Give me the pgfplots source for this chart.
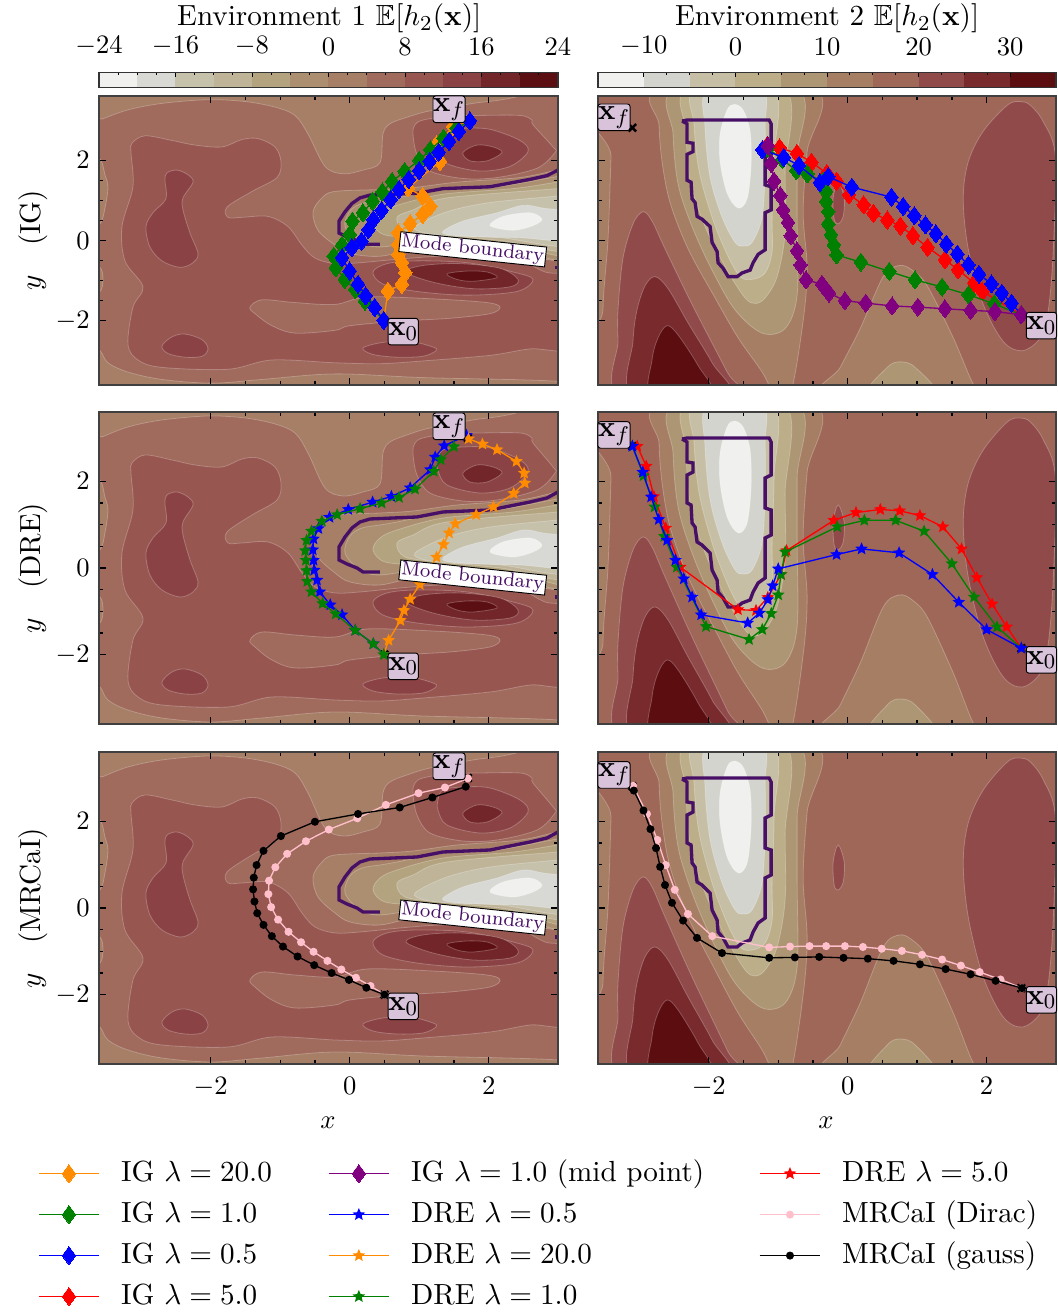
\documentclass[border=0pt]{standalone}
\usepackage{amsfonts}
\usepackage{pgfplots}
\pgfplotsset{compat=1.18}
\usetikzlibrary{plotmarks}
% env 1 levels
\definecolor{ca}{HTML}{F0F0EE}\definecolor{cb}{HTML}{D8D8D4}\definecolor{cc}{HTML}{C6C1AB}
\definecolor{cd}{HTML}{BFB498}\definecolor{ce}{HTML}{B3A47F}\definecolor{cf}{HTML}{AB8F70}
\definecolor{cg}{HTML}{A67F66}\definecolor{ch}{HTML}{A06A5C}\definecolor{ci}{HTML}{985651}
\definecolor{cj}{HTML}{8B4244}\definecolor{ck}{HTML}{722629}\definecolor{cl}{HTML}{5C0F12}
% env 2 levels
\definecolor{da}{HTML}{F0F0EE}\definecolor{db}{HTML}{D4D4CE}\definecolor{dc}{HTML}{C6BFA6}
\definecolor{dd}{HTML}{BBAE88}\definecolor{de}{HTML}{AD9673}\definecolor{df}{HTML}{A67E64}
\definecolor{dg}{HTML}{9F6758}\definecolor{dh}{HTML}{904A4A}\definecolor{di}{HTML}{782A2C}
\definecolor{dj}{HTML}{5C0D10}
\definecolor{modec}{HTML}{470F66}
\definecolor{boxc}{HTML}{D9C3DB}
\definecolor{dorange}{HTML}{FF8C00}
\definecolor{dgreen}{HTML}{008000}
\definecolor{dpurple}{HTML}{800080}
\definecolor{lpink}{HTML}{FFC0CB}
\newcommand\bigtxt{\fontsize{10.95}{13}\selectfont}
\pgfdeclareplotmark{fstar}{%
  \pgfpathmoveto{\pgfpointpolar{90}{\pgfplotmarksize}}%
  \pgfpathlineto{\pgfpointpolar{126}{0.45\pgfplotmarksize}}%
  \pgfpathlineto{\pgfpointpolar{162}{\pgfplotmarksize}}%
  \pgfpathlineto{\pgfpointpolar{198}{0.45\pgfplotmarksize}}%
  \pgfpathlineto{\pgfpointpolar{234}{\pgfplotmarksize}}%
  \pgfpathlineto{\pgfpointpolar{270}{0.45\pgfplotmarksize}}%
  \pgfpathlineto{\pgfpointpolar{306}{\pgfplotmarksize}}%
  \pgfpathlineto{\pgfpointpolar{342}{0.45\pgfplotmarksize}}%
  \pgfpathlineto{\pgfpointpolar{18}{\pgfplotmarksize}}%
  \pgfpathlineto{\pgfpointpolar{54}{0.45\pgfplotmarksize}}%
  \pgfpathclose\pgfusepathqfill}
\pgfplotsset{
  lev/.style={fill=#1,draw=white,draw opacity=.25,line width=.3pt,smooth cycle,tension=.55},
  ea/.style={x filter/.expression={(x-349.7)/69.5},y filter/.expression={(908-y)/43.33}},
  eb/.style={x filter/.expression={(x-847.5)/69.4},y filter/.expression={(908-y)/43.33}},
  panel/.style={scale only axis,axis on top,clip mode=individual,
    ymin=-3.6,ymax=3.6,xtick={-2,0,2},ytick={-2,0,2},minor x tick num=3,minor y tick num=3,
    major tick length=2.7pt,minor tick length=1.5pt,tick style={black,line width=.5pt},
    axis line style={black!75,line width=.6pt},anchor=north west,xticklabel style={yshift=-1.5pt}},
  colA/.style={panel,xmin=-3.607,xmax=2.997,width=172.58pt,axis background/.style={fill=cg},
    after end axis/.code={\MarksA}},
  colB/.style={panel,xmin=-3.595,xmax=3.0,width=172.21pt,axis background/.style={fill=df},yticklabels={},
    after end axis/.code={\MarksB}},
  igs/.style={color=#1,line width=.5pt,mark=diamond*,mark size=3.4pt,mark options={solid,fill=#1,draw=#1,line width=0pt}},
  dres/.style={color=#1,line width=.5pt,mark=fstar,mark size=2.5pt,mark options={solid,fill=#1}},
  mrs/.style={color=#1,line width=.5pt,mark=*,mark size=1.25pt,mark options={solid,fill=#1,draw=#1}},
  cbar/.style={scale only axis,anchor=north west,height=5.5pt,ymin=0,ymax=1,ytick=\empty,
    xtick pos=top,xticklabel pos=top,minor x tick num=3,axis on top,tick align=inside,
    major tick length=1.8pt,minor tick length=.9pt,tick style={black,line width=.35pt},
    xticklabel style={yshift=3pt},axis line style={black!80,line width=.5pt}},
  leg/.style={scale only axis,width=10pt,height=10pt,hide axis,xmin=0,xmax=1,ymin=0,ymax=1,anchor=north west,
    legend style={at={(0,1)},anchor=north west,draw=none,fill=none,inner sep=0pt,outer sep=0pt,font=\bigtxt,
      row sep=6.4pt,nodes={inner sep=0pt,anchor=base west,text height=7pt,text depth=2pt},
      /tikz/column 1/.style={column sep=8pt}},
    legend cell align=left,
    legend image code/.code={\draw[mark repeat=2,mark phase=2,yshift=3pt,##1] plot coordinates {(0cm,0cm)(0.4cm,0cm)(0.8cm,0cm)};}}
}
\tikzset{
  xbox/.style={fill=boxc,draw=black,line width=.35pt,rounded corners=1pt,minimum width=11.3pt,minimum height=10pt,inner sep=0pt,font=\bigtxt},
  modebox/.style={fill=white,draw=black,line width=.35pt,rotate=-6,scale=.915,inner xsep=.6pt,inner ysep=.5pt,text=modec,font=\footnotesize}
}
\newcommand\CA{%
\addplot[ea,lev=ch] coordinates {(90,782)(102,777)(128,767)(162,760)(208,756)(245,758)(275,764)(295,773)(308,793)(325,828)(343,836)(363,832)(380,824)(383,793)(390,782)(407,775)(430,768)(473,760)(520,752)(620,720)(620,1070)(558,1060)(423,1056)(335,1052)(262,1058)(212,1062)(162,1058)(128,1050)(108,1040)(100,1027)(90,1025)};
\addplot[ea,lev=cg] coordinates {(85,815)(100,820)(105,837)(108,850)(105,873)(100,890)(85,895)};
\addplot[ea,lev=cg] coordinates {(85,932)(100,937)(103,950)(100,963)(85,968)};
\addplot[ea,lev=ci] coordinates {(132,803)(145,795)(172,800)(195,805)(222,807)(242,799)(258,798)(275,807)(281,823)(277,840)(252,855)(227,872)(228,883)(242,883)(268,882)(288,893)(302,913)(315,927)(335,933)(360,932)(400,928)(440,925)(480,925)(520,930)(545,942)(575,952)(575,1022)(530,1025)(490,1032)(423,1038)(380,1041)(335,1040)(272,1037)(228,1047)(162,1045)(138,1037)(128,1020)(133,980)(143,958)(125,930)(122,893)(133,850)(131,813)};
\addplot[ea,lev=ch] coordinates {(250,980)(262,972)(295,975)(335,977)(367,969)(433,971)(487,975)(500,980)(490,987)(450,992)(400,995)(350,1000)(335,1005)(295,1008)(272,1000)(255,987)};
\addplot[ea,lev=cj] coordinates {(165,843)(167,835)(177,832)(188,837)(193,845)(183,862)(183,875)(190,900)(198,922)(193,932)(180,937)(162,930)(150,915)(146,893)(153,878)(166,863)};
\addplot[ea,lev=cj] coordinates {(162,1022)(172,1012)(185,1009)(202,1015)(208,1025)(202,1033)(185,1034)(168,1030)};
\addplot[ea,lev=cj] coordinates {(363,1024)(383,1018)(410,1017)(433,1023)(436,1027)(423,1033)(397,1034)(373,1031)};
\addplot[ea,lev=cj] coordinates {(373,942)(387,933)(417,930)(467,932)(513,942)(533,950)(517,963)(467,967)(417,963)(383,955)};
\addplot[ea,lev=ck] coordinates {(406,942)(423,935)(460,933)(500,938)(518,950)(510,958)(473,960)(433,953)};
\addplot[ea,lev=cl] coordinates {(447,944)(467,941)(487,942)(497,948)(473,952)(457,950)};
\addplot[ea,lev=ci] coordinates {(413,793)(415,783)(423,778)(447,774)(480,773)(520,773)(532,778)(533,783)(553,807)(555,813)(537,830)(497,840)(463,841)(430,833)(417,815)};
\addplot[ea,lev=cj] coordinates {(438,800)(443,790)(463,787)(490,788)(520,800)(528,812)(510,828)(480,833)(447,825)(438,810)};
\addplot[ea,lev=ck] coordinates {(463,813)(477,805)(493,807)(502,813)(487,822)(470,822)};
\addplot[ea,lev=cg] coordinates {(335,855)(380,853)(413,851)(457,845)(520,840)(557,832)(580,828)(580,932)(558,930)(520,925)(470,918)(420,917)(380,925)(350,922)(335,913)(318,897)(313,877)(322,862)};
\addplot[ea,lev=cf] coordinates {(345,893)(350,876)(362,868)(380,865)(397,862)(443,853)(497,850)(557,839)(580,835)(580,926)(520,920)(470,912)(420,910)(380,915)(360,910)};
\addplot[ea,lev=ce] coordinates {(373,890)(380,878)(397,870)(443,858)(513,852)(557,845)(580,842)(580,922)(520,915)(470,908)(420,905)(385,902)};
\addplot[ea,lev=cd] coordinates {(397,883)(413,875)(447,862)(557,852)(580,849)(580,918)(500,908)(440,902)(405,897)};
\addplot[ea,lev=cc] coordinates {(415,893)(447,877)(490,867)(557,860)(580,857)(580,913)(500,905)(450,903)(425,900)};
\addplot[ea,lev=cb] coordinates {(443,898)(463,887)(497,878)(523,870)(543,873)(580,880)(580,908)(520,905)(480,904)(450,902)};
\addplot[ea,lev=ca] coordinates {(490,892)(503,882)(530,878)(542,885)(533,892)(513,897)};
\addplot[ea,color=modec,line width=1.25pt] coordinates {(380,912)(363,912)(357,908)(347,904)(339,900)(339,887)(345,877)(352,868)(360,862)(370,859)(417,857)(443,852)(490,850)(510,846)(530,842)(547,838)(558,832)};
\addplot[ea,color=modec,line width=1.25pt] coordinates {(555,937)(560,937)};
\addplot[only marks,mark=x,mark size=2pt,black,line width=.9pt] coordinates {(0.5,-2)(1.7,3)};
}
\newcommand\CB{%
\addplot[eb,lev=dg] coordinates {(613,740)(611,817)(608,907)(603,983)(605,1075)(1080,1090)(1080,730)};
\addplot[eb,lev=df] coordinates {(660,745)(659,783)(662,823)(670,867)(688,917)(715,970)(738,1013)(762,1050)(775,1075)(790,1075)(803,995)(807,938)(803,878)(807,812)(814,745)};
\addplot[eb,lev=de] coordinates {(675,745)(673,793)(678,847)(692,893)(712,940)(735,983)(762,1008)(785,1003)(797,967)(797,883)(797,817)(797,745)};
\addplot[eb,lev=dd] coordinates {(687,745)(686,790)(690,843)(705,893)(727,940)(745,970)(755,976)(765,970)(777,947)(785,900)(785,833)(785,745)};
\addplot[eb,lev=dc] coordinates {(695,745)(694,783)(699,833)(712,883)(727,923)(740,947)(752,950)(765,943)(772,920)(772,883)(774,817)(773,745)};
\addplot[eb,lev=db] coordinates {(707,745)(705,787)(710,840)(722,883)(735,910)(743,914)(752,910)(762,883)(765,833)(765,783)(762,745)};
\addplot[eb,lev=da] coordinates {(734,761)(727,767)(720,793)(720,823)(727,857)(738,873)(747,863)(751,827)(750,790)(743,767)};
\addplot[eb,lev=dh] coordinates {(643,877)(633,890)(623,927)(618,983)(618,1017)(620,1075)(738,1075)(727,1050)(692,977)(665,917)(652,887)};
\addplot[eb,lev=di] coordinates {(655,947)(645,957)(637,983)(633,1017)(633,1075)(728,1075)(712,1040)(688,997)(668,960)};
\addplot[eb,lev=dj] coordinates {(667,1000)(658,1013)(652,1037)(652,1075)(712,1075)(698,1043)(678,1010)};
\addplot[eb,lev=dh] coordinates {(1020,758)(1007,762)(983,790)(968,823)(963,863)(968,917)(983,977)(1003,1017)(1022,1027)(1040,1013)(1048,983)(1053,917)(1055,817)(1043,780)(1030,762)};
\addplot[eb,lev=dh] coordinates {(838,845)(833,862)(834,885)(838,890)(843,882)(844,862)};
\addplot[eb,lev=df] coordinates {(899,935)(883,947)(860,1003)(840,1045)(826,1075)(985,1075)(973,1063)(953,1013)(927,957)(912,940)};
\addplot[eb,lev=de] coordinates {(900,1039)(887,1045)(868,1075)(935,1075)(915,1045)};
\addplot[eb,color=modec,line width=1.25pt] coordinates {(682,779)(687,778)(769,778)(771,782)(771,815)(765,818)(765,848)(771,850)(771,875)(765,878)(765,918)(758,923)(753,932)(750,940)(742,943)(737,947)(728,947)(723,938)(718,932)(717,920)(712,910)(710,893)(702,885)(697,882)(695,867)(692,863)(691,845)(687,843)(687,815)(693,812)(693,803)(687,802)(687,782)(682,779)};
\addplot[only marks,mark=x,mark size=2pt,black,line width=.9pt] coordinates {(2.5,-1.85)(-3.1,2.81)};
}
\newcommand\MarksA{%
\node[modebox] at (axis cs:1.77,-0.22) {Mode boundary};
\node[xbox] at (axis cs:0.77,-2.27) {$\mathbf{x}_0$};
\node[xbox] at (axis cs:1.43,3.27) {$\mathbf{x}_f$};
}
\newcommand\MarksB{%
\node[xbox] at (axis cs:2.79,-2.12) {$\mathbf{x}_0$};
\node[xbox] at (axis cs:-3.365,3.07) {$\mathbf{x}_f$};
}
\begin{document}
\begin{tikzpicture}
\useasboundingbox (0,0) rectangle (397.43pt,-494.44pt);
% colour bars
\begin{axis}[cbar,at={(37.22pt,-27.3pt)},width=172.58pt,xmin=-24,xmax=24,xtick={-24,-16,-8,0,8,16,24}]
\addplot[fill=ca,draw=none] coordinates {(-24,0)(-20,0)(-20,1)(-24,1)} --cycle;
\addplot[fill=cb,draw=none] coordinates {(-20,0)(-16,0)(-16,1)(-20,1)} --cycle;
\addplot[fill=cc,draw=none] coordinates {(-16,0)(-12,0)(-12,1)(-16,1)} --cycle;
\addplot[fill=cd,draw=none] coordinates {(-12,0)(-8,0)(-8,1)(-12,1)} --cycle;
\addplot[fill=ce,draw=none] coordinates {(-8,0)(-4,0)(-4,1)(-8,1)} --cycle;
\addplot[fill=cf,draw=none] coordinates {(-4,0)(0,0)(0,1)(-4,1)} --cycle;
\addplot[fill=cg,draw=none] coordinates {(0,0)(4,0)(4,1)(0,1)} --cycle;
\addplot[fill=ch,draw=none] coordinates {(4,0)(8,0)(8,1)(4,1)} --cycle;
\addplot[fill=ci,draw=none] coordinates {(8,0)(12,0)(12,1)(8,1)} --cycle;
\addplot[fill=cj,draw=none] coordinates {(12,0)(16,0)(16,1)(12,1)} --cycle;
\addplot[fill=ck,draw=none] coordinates {(16,0)(20,0)(20,1)(16,1)} --cycle;
\addplot[fill=cl,draw=none] coordinates {(20,0)(24,0)(24,1)(20,1)} --cycle;
\end{axis}
\begin{axis}[cbar,at={(224.85pt,-27.3pt)},width=172.21pt,xmin=-15,xmax=35,xtick={-10,0,10,20,30}]
\addplot[fill=da,draw=none] coordinates {(-15,0)(-10,0)(-10,1)(-15,1)} --cycle;
\addplot[fill=db,draw=none] coordinates {(-10,0)(-5,0)(-5,1)(-10,1)} --cycle;
\addplot[fill=dc,draw=none] coordinates {(-5,0)(0,0)(0,1)(-5,1)} --cycle;
\addplot[fill=dd,draw=none] coordinates {(0,0)(5,0)(5,1)(0,1)} --cycle;
\addplot[fill=de,draw=none] coordinates {(5,0)(10,0)(10,1)(5,1)} --cycle;
\addplot[fill=df,draw=none] coordinates {(10,0)(15,0)(15,1)(10,1)} --cycle;
\addplot[fill=dg,draw=none] coordinates {(15,0)(20,0)(20,1)(15,1)} --cycle;
\addplot[fill=dh,draw=none] coordinates {(20,0)(25,0)(25,1)(20,1)} --cycle;
\addplot[fill=di,draw=none] coordinates {(25,0)(30,0)(30,1)(25,1)} --cycle;
\addplot[fill=dj,draw=none] coordinates {(30,0)(35,0)(35,1)(30,1)} --cycle;
\end{axis}
\node[font=\bigtxt] at (123.8pt,-7pt) {Environment 1 $\mathbb{E}[h_2(\mathbf{x})]$};
\node[font=\bigtxt] at (311pt,-7pt) {Environment 2 $\mathbb{E}[h_2(\mathbf{x})]$};
% row 1
\begin{axis}[colA,at={(37.22pt,-36.1pt)},height=108.66pt,xticklabels={}]
\CA
\addplot[igs=dorange] coordinates {(0.49,-1.99)(0.55,-1.26)(0.75,-1.09)(0.8,-0.8)(0.75,-0.55)(0.7,-0.35)(0.7,-0.1)(0.7,0.19)(0.87,0.42)(1.05,0.65)(1.16,0.85)(1.05,1.1)(0.84,1.31)(1.3,1.97)(1.25,2.39)(1.49,2.84)(1.73,2.98)};
\addplot[igs=dgreen] coordinates {(0.49,-1.99)(0.22,-1.51)(0.08,-1.22)(-0.07,-0.97)(-0.2,-0.68)(-0.23,-0.39)(-0.11,-0.12)(0,0.15)(0.04,0.48)(0.19,0.69)(0.33,0.98)(0.47,1.21)(0.61,1.47)(0.79,1.72)(1.0,2.0)(1.16,2.26)(1.35,2.55)(1.54,2.8)(1.73,2.98)};
\addplot[igs=blue] coordinates {(0.49,-1.99)(0.36,-1.67)(0.23,-1.38)(0.12,-1.09)(0,-0.76)(-0.11,-0.43)(0.03,-0.18)(0.17,-0.02)(0.27,0.27)(0.34,0.52)(0.46,0.75)(0.59,1.02)(0.71,1.27)(0.85,1.52)(1.0,1.74)(1.15,1.97)(1.28,2.2)(1.43,2.47)(1.57,2.72)(1.73,2.98)};
\end{axis}
\begin{axis}[colB,at={(224.85pt,-36.1pt)},height=108.66pt,xticklabels={}]
\CB
\addplot[igs=red] coordinates {(2.5,-1.85)(1.94,-1.27)(1.82,-1.06)(1.59,-0.73)(1.4,-0.48)(1.15,-0.17)(0.94,0.12)(0.76,0.36)(0.57,0.51)(0.37,0.68)(0.23,0.89)(0.02,1.14)(-0.16,1.48)(-0.3,1.67)(-0.52,1.95)(-0.73,2.17)(-0.98,2.31)(-1.17,2.34)};
\addplot[igs=dgreen] coordinates {(2.5,-1.85)(2.11,-1.58)(1.74,-1.35)(1.36,-1.16)(0.97,-0.98)(0.6,-0.77)(0.19,-0.54)(-0.16,-0.36)(-0.2,-0.11)(-0.24,0.14)(-0.28,0.41)(-0.28,0.72)(-0.31,0.97)(-0.31,1.22)(-0.36,1.47)(-0.58,1.66)(-0.74,1.74)(-0.94,2.02)(-1.15,2.3)};
\addplot[igs=blue] coordinates {(2.5,-1.85)(2.36,-1.56)(2.22,-1.31)(2.07,-1.08)(1.89,-0.84)(1.74,-0.61)(1.58,-0.34)(1.42,-0.09)(1.27,0.17)(1.12,0.39)(0.96,0.62)(0.8,0.85)(0.63,1.08)(0.06,1.33)(-0.28,1.59)(-0.4,1.44)(-0.7,1.87)(-0.92,2.07)(-1.23,2.26)};
\addplot[igs=dpurple] coordinates {(2.5,-1.85)(2.12,-1.77)(1.77,-1.74)(1.4,-1.7)(1.01,-1.66)(0.64,-1.63)(0.26,-1.56)(-0.04,-1.5)(-0.27,-1.31)(-0.37,-1.09)(-0.6,-0.98)(-0.68,-0.61)(-0.73,-0.26)(-0.82,0.12)(-0.86,0.45)(-0.93,0.76)(-0.97,1.12)(-1.06,1.48)(-1.1,1.92)(-1.15,2.36)};
\end{axis}
% row 2
\begin{axis}[colA,at={(37.22pt,-154.91pt)},height=117.31pt,xticklabels={}]
\CA
\addplot[dres=blue] coordinates {(0.49,-2)(0.34,-1.75)(0.08,-1.44)(-0.11,-1.08)(-0.28,-0.85)(-0.43,-0.55)(-0.47,-0.28)(-0.51,-0.05)(-0.52,0.18)(-0.53,0.42)(-0.52,0.67)(-0.45,0.91)(-0.29,1.17)(-0.02,1.35)(0.33,1.52)(0.6,1.65)(0.87,1.85)(1.16,2.27)(1.23,2.56)(1.36,2.82)(1.68,3.06)};
\addplot[dres=dorange] coordinates {(0.49,-2)(0.56,-1.67)(0.73,-1.21)(0.78,-0.98)(0.87,-0.72)(1.01,-0.38)(1.13,-0.08)(1.25,0.25)(1.35,0.54)(1.43,0.81)(1.52,1.02)(1.82,1.23)(2.07,1.41)(2.36,1.72)(2.52,1.96)(2.51,2.19)(2.4,2.46)(2.12,2.73)(1.91,2.86)(1.71,2.98)};
\addplot[dres=dgreen] coordinates {(0.49,-2)(0.34,-1.75)(0.08,-1.44)(-0.2,-1.06)(-0.39,-0.82)(-0.55,-0.55)(-0.61,-0.31)(-0.62,-0.06)(-0.63,0.18)(-0.64,0.4)(-0.62,0.64)(-0.55,0.85)(-0.4,1.08)(-0.18,1.23)(0.15,1.37)(0.46,1.5)(0.71,1.63)(0.94,1.82)(1.21,2.23)(1.31,2.5)(1.5,2.8)};
\end{axis}
\begin{axis}[colB,at={(224.85pt,-154.91pt)},height=117.31pt,xticklabels={}]
\CB
\addplot[dres=red] coordinates {(2.5,-1.85)(2.29,-1.36)(2.08,-0.83)(1.86,-0.22)(1.64,0.44)(1.37,0.95)(1.04,1.21)(0.75,1.32)(0.47,1.35)(0.12,1.28)(-0.2,1.1)(-0.88,0.4)(-0.96,-0.15)(-1.15,-0.68)(-1.32,-0.98)(-1.58,-0.96)(-2.41,0.02)(-2.62,0.92)(-2.79,1.65)(-2.9,2.35)(-3.03,2.81)};
\addplot[dres=dgreen] coordinates {(2.5,-1.85)(2.15,-1.36)(1.82,-0.67)(1.5,0.1)(1.1,0.85)(0.69,1.1)(0.24,1.1)(-0.15,0.95)(-0.9,0.37)(-0.96,-0.15)(-1.0,-0.62)(-1.1,-1.05)(-1.23,-1.42)(-1.42,-1.65)(-2.04,-1.35)(-2.46,0.02)(-2.64,0.73)(-2.78,1.41)(-2.94,2.13)(-3.1,2.81)};
\addplot[dres=blue] coordinates {(2.5,-1.85)(2.0,-1.42)(1.6,-0.79)(1.22,-0.15)(0.74,0.35)(0.2,0.44)(-0.16,0.31)(-1.0,-0.02)(-1.08,-0.41)(-1.15,-0.73)(-1.27,-1.04)(-1.44,-1.27)(-2.11,-1.08)(-2.24,-0.67)(-2.36,-0.25)(-2.48,0.18)(-2.6,0.64)(-2.72,1.12)(-2.83,1.64)(-2.95,2.21)(-3.1,2.81)};
\end{axis}
% row 3
\begin{axis}[colA,at={(37.22pt,-282.75pt)},height=117.31pt]
\CA
\addplot[mrs=lpink] coordinates {(0.5,-2)(0.3,-1.8)(0.09,-1.61)(-0.12,-1.42)(-0.32,-1.22)(-0.52,-1.01)(-0.7,-0.79)(-0.88,-0.55)(-1.03,-0.27)(-1.13,0.02)(-1.17,0.32)(-1.16,0.63)(-1.07,0.94)(-0.9,1.25)(-0.63,1.54)(-0.3,1.81)(0.11,2.07)(0.52,2.38)(0.99,2.65)(1.37,2.78)(1.7,2.99)};
\addplot[mrs=black] coordinates {(0.5,-2)(0.24,-1.84)(-0.01,-1.66)(-0.26,-1.5)(-0.51,-1.32)(-0.75,-1.12)(-0.96,-0.89)(-1.12,-0.65)(-1.24,-0.39)(-1.33,-0.12)(-1.37,0.15)(-1.39,0.43)(-1.38,0.7)(-1.34,0.99)(-1.24,1.32)(-0.99,1.66)(-0.5,1.99)(0.12,2.17)(0.72,2.32)(1.19,2.55)(1.67,2.8)};
\end{axis}
\begin{axis}[colB,at={(224.85pt,-282.75pt)},height=117.31pt]
\CB
\addplot[mrs=lpink] coordinates {(2.51,-1.85)(2.2,-1.65)(1.9,-1.48)(1.63,-1.33)(1.36,-1.19)(1.07,-1.08)(0.78,-0.99)(0.49,-0.94)(0.22,-0.9)(-0.04,-0.88)(-0.31,-0.88)(-0.55,-0.88)(-0.83,-0.89)(-1.13,-0.91)(-1.95,-0.65)(-2.3,-0.14)(-2.49,0.42)(-2.62,0.99)(-2.74,1.57)(-2.89,2.17)(-3.09,2.82)};
\addplot[mrs=black] coordinates {(2.51,-1.85)(2.13,-1.68)(1.77,-1.53)(1.41,-1.41)(1.04,-1.3)(0.66,-1.22)(0.29,-1.17)(-0.06,-1.15)(-0.41,-1.13)(-0.76,-1.14)(-1.13,-1.15)(-1.81,-1.04)(-2.17,-0.69)(-2.37,-0.29)(-2.53,0.12)(-2.63,0.53)(-2.7,0.95)(-2.76,1.38)(-2.84,1.82)(-2.94,2.25)(-3.08,2.71)};
\end{axis}
% labels
\node[rotate=90,font=\bigtxt] at (12.4pt,-90.3pt) {$y$\quad (IG)};
\node[rotate=90,font=\bigtxt] at (12.4pt,-213.6pt) {$y$\quad (DRE)};
\node[rotate=90,font=\bigtxt] at (12.4pt,-341.4pt) {$y$\quad (MRCaI)};
\node at (123.3pt,-422pt) {$x$};
\node at (310.6pt,-422pt) {$x$};
% legends
\begin{axis}[leg,at={(14.3pt,-437.3pt)}]
\addlegendimage{igs=dorange}\addlegendentry{IG $\lambda=20.0$}
\addlegendimage{igs=dgreen}\addlegendentry{IG $\lambda=1.0$}
\addlegendimage{igs=blue}\addlegendentry{IG $\lambda=0.5$}
\addlegendimage{igs=red}\addlegendentry{IG $\lambda=5.0$}
\end{axis}
\begin{axis}[leg,at={(123.3pt,-437.3pt)}]
\addlegendimage{igs=dpurple}\addlegendentry{IG $\lambda=1.0$ (mid point)}
\addlegendimage{dres=blue}\addlegendentry{DRE $\lambda=0.5$}
\addlegendimage{dres=dorange}\addlegendentry{DRE $\lambda=20.0$}
\addlegendimage{dres=dgreen}\addlegendentry{DRE $\lambda=1.0$}
\end{axis}
\begin{axis}[leg,at={(285.4pt,-437.3pt)}]
\addlegendimage{dres=red}\addlegendentry{DRE $\lambda=5.0$}
\addlegendimage{mrs=lpink}\addlegendentry{MRCaI (Dirac)}
\addlegendimage{mrs=black}\addlegendentry{MRCaI (gauss)}
\end{axis}
\end{tikzpicture}
\end{document}
